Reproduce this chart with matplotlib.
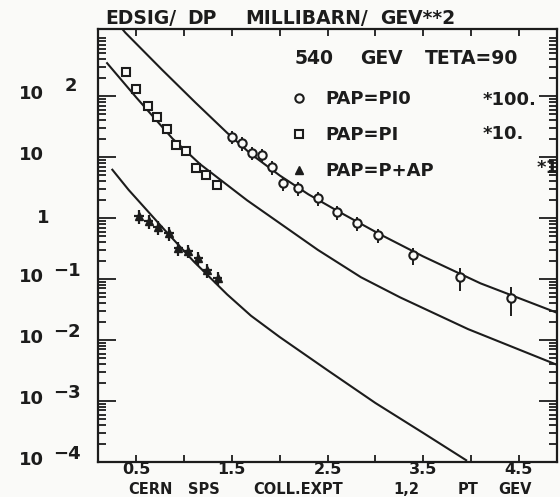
import matplotlib
matplotlib.use('Agg')
import matplotlib.pyplot as plt
from matplotlib.ticker import FixedLocator, LogLocator, NullFormatter
from matplotlib.transforms import blended_transform_factory, offset_copy

plt.rcParams['font.family'] = ['DejaVu Sans']
plt.rcParams['font.weight'] = 'bold'

INK = '#1c1c1c'
PAPER = '#fafaf8'

# pbar p -> pi0, scaled *100 (circles)
pi0_pt = [1.50, 1.61, 1.71, 1.82, 1.92, 2.03, 2.19, 2.40, 2.60, 2.81, 3.03, 3.39, 3.89, 4.42]
pi0_val = [21.5, 17.0, 11.8, 10.7, 6.9, 3.7, 3.1, 2.1, 1.26, 0.83, 0.52, 0.245, 0.107, 0.049]
pi0_relerr = [0.25, 0.25, 0.25, 0.25, 0.25, 0.25, 0.25, 0.25, 0.25, 0.25, 0.25, 0.3, 0.4, 0.5]

# pbar p -> pi, scaled *10 (squares)
pi_pt = [0.39, 0.50, 0.62, 0.72, 0.82, 0.92, 1.02, 1.13, 1.23, 1.34]
pi_val = [245, 129, 69, 46, 29, 16, 12.6, 6.6, 5.0, 3.5]

# pbar p -> p + pbar, scaled *1 (triangles)
pp_pt = [0.53, 0.63, 0.73, 0.84, 0.94, 1.04, 1.15, 1.24, 1.35]
pp_val = [1.08, 0.89, 0.71, 0.57, 0.32, 0.29, 0.22, 0.14, 0.105]
pp_relerr = [0.25, 0.25, 0.25, 0.25, 0.25, 0.25, 0.25, 0.25, 0.25]
pp_binhalf = [0.05, 0.05, 0.05, 0.05, 0.05, 0.05, 0.05, 0.05, 0.05]

# theory curves
th_pi0_pt = [0.33, 0.385, 0.77, 1.12, 1.45, 1.7, 2.0, 2.3, 2.6, 3.05, 3.5, 4.1, 4.9]
th_pi0_val = [1400, 1100, 270, 78, 25, 11.2, 5.0, 2.45, 1.32, 0.54, 0.235, 0.085, 0.028]
th_pi_pt = [0.195, 0.5, 0.88, 1.17, 1.66, 2.4, 2.85, 3.26, 3.97, 4.94]
th_pi_val = [347, 95, 20, 7.6, 1.95, 0.30, 0.107, 0.050, 0.0151, 0.0037]
th_pp_pt = [0.25, 0.42, 0.8, 1.1, 1.45, 1.7, 2.0, 2.5, 3.0, 3.5, 3.95]
th_pp_val = [6.2, 2.9, 0.63, 0.195, 0.056, 0.025, 0.0112, 0.0032, 0.00093, 0.0003, 0.000107]

x_major = [0.5, 1.5, 2.5, 3.5, 4.5]
x_minor = [1.0, 2.0, 3.0, 4.0]
y_decades = [2, 1, 0, -1, -2, -3, -4]

W, H = 560, 497
fig = plt.figure(figsize=(W / 100, H / 100), dpi=100, facecolor=PAPER)


def fx(p):
    return p / W


def fy(p):
    return 1 - p / H


ax = fig.add_axes([fx(98), fy(462), fx(557) - fx(98), fy(29) - fy(462)])
ax.set_facecolor(PAPER)
ax.set_yscale('log')
ax.set_xlim(0.1, 4.9)
ax.set_ylim(1e-4, 10 ** 3.1)

for c_x, c_y in [(th_pi0_pt, th_pi0_val), (th_pi_pt, th_pi_val), (th_pp_pt, th_pp_val)]:
    ax.plot(c_x, c_y, color=INK, lw=1.5)

pi0 = ax.errorbar(pi0_pt, pi0_val, yerr=[v * e for v, e in zip(pi0_val, pi0_relerr)],
                  fmt='o', ms=6, mfc=PAPER, mec=INK, mew=1.5, ecolor=INK, elinewidth=1.4, capsize=0)
pi, = ax.plot(pi_pt, pi_val, 's', ms=5.5, mfc=PAPER, mec=INK, mew=1.5)
pp = ax.errorbar(pp_pt, pp_val, yerr=[v * e for v, e in zip(pp_val, pp_relerr)], xerr=pp_binhalf,
                 fmt='^', ms=5.5, color=INK, ecolor=INK, elinewidth=1.6, capsize=0)

# axes frame and ticks
for s in ax.spines.values():
    s.set_linewidth(1.6)
    s.set_color(INK)
ax.xaxis.set_major_locator(FixedLocator(x_major))
ax.xaxis.set_minor_locator(FixedLocator(x_minor))
ax.set_xticklabels([f'{v:.1f}' for v in x_major])
ax.yaxis.set_major_locator(FixedLocator([10.0 ** e for e in y_decades]))
ax.yaxis.set_minor_locator(LogLocator(base=10, subs=range(2, 10), numticks=30))
ax.yaxis.set_major_formatter(NullFormatter())
ax.yaxis.set_minor_formatter(NullFormatter())
ax.tick_params(which='both', direction='in', top=True, right=True, color=INK, width=1.3)
ax.tick_params(axis='x', which='both', length=5, labelsize=11.5, pad=0, labelcolor=INK)
ax.tick_params(axis='y', which='major', length=13)
ax.tick_params(axis='y', which='minor', length=6)

# y labels in the plotter style: 10 with raised exponent
ytr = blended_transform_factory(fig.transFigure, ax.transData)
for e in y_decades:
    yv = 10.0 ** e
    if e == 0:
        fig.text(fx(43), yv, '1', transform=ytr, ha='center', va='center', fontsize=13, color=INK)
        continue
    fig.text(fx(19), yv, '10', transform=offset_copy(ytr, fig=fig, y=2, units='dots'),
             ha='left', va='center', fontsize=13, color=INK)
    if e != 1:
        ex = str(e).replace('-', '\u2212')
        fig.text(fx(65) if e > 0 else fx(53), yv, ex,
                 transform=offset_copy(ytr, fig=fig, y=10 if e > 0 else 8, units='dots'),
                 ha='left', va='center', fontsize=13, color=INK)

# title, split where the plotter spaced it out
for word, x0 in [('EDSIG/', 105), ('DP', 187), ('MILLIBARN/', 245), ('GEV**2', 380)]:
    fig.text(fx(x0), fy(19), word, ha='left', va='center', fontsize=13.5, color=INK)

for word, x0 in [('CERN', 128), ('SPS', 188), ('COLL.EXPT', 253), ('1,2', 393), ('PT', 458), ('GEV', 498)]:
    fig.text(fx(x0), 0, word, ha='left', va='bottom', fontsize=10.5, color=INK)

for word, x0 in [('540', 295), ('GEV', 360), ('TETA=90', 425)]:
    fig.text(fx(x0), fy(58), word, ha='left', va='center', fontsize=13.5, color=INK)

leg = ax.legend([pi0[0], pi, pp[0]], ['PAP=PI0', 'PAP=PI', 'PAP=P+AP'],
                loc='upper left', bbox_to_anchor=(fx(290), fy(90)), bbox_transform=fig.transFigure,
                frameon=False, fontsize=13, handlelength=1.0, handletextpad=0.95,
                labelspacing=1.0, borderpad=0, borderaxespad=0, labelcolor=INK)

for word, x0, y0 in [('*100.', 483, 100), ('*10.', 483, 134), ('*1', 537, 168)]:
    fig.text(fx(x0), fy(y0), word, ha='left', va='center', fontsize=13, color=INK)

fig.savefig('out.png', dpi=100, facecolor=PAPER)
